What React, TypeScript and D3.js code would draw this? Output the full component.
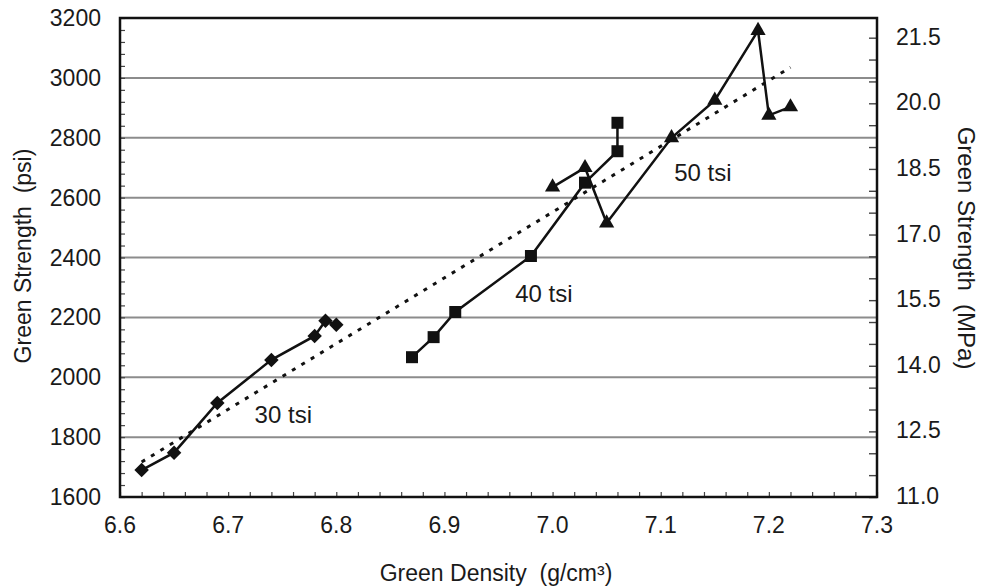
import { useRef, useEffect } from 'react';
import * as d3 from 'd3';

// 30 tsi (diamonds)
const density30 = [6.62, 6.65, 6.69, 6.74, 6.78, 6.79, 6.80];
const strength30 = [1690, 1748, 1914, 2058, 2138, 2189, 2175];
// 40 tsi (squares)
const density40 = [6.87, 6.89, 6.91, 6.98, 7.03, 7.06, 7.06];
const strength40 = [2067, 2134, 2218, 2405, 2650, 2755, 2850];
// 50 tsi (triangles)
const density50 = [7.0, 7.03, 7.05, 7.11, 7.15, 7.19, 7.2, 7.22];
const strength50 = [2635, 2700, 2515, 2800, 2925, 3158, 2875, 2903];
// dotted linear fit endpoints
const trendDensity = [6.62, 7.22];
const trendStrength = [1717, 3035];

const seriesLabels = ['30 tsi', '40 tsi', '50 tsi'];
const labelDensity = [6.751, 6.992, 7.139];
const labelStrength = [1847, 2251, 2655];

const xTicks = [6.6, 6.7, 6.8, 6.9, 7.0, 7.1, 7.2, 7.3];
const psiTicks = [1600, 1800, 2000, 2200, 2400, 2600, 2800, 3000, 3200];
const mpaTicks = [11.0, 12.5, 14.0, 15.5, 17.0, 18.5, 20.0, 21.5];

const App = () => {
    const ref = useRef(null);

    useEffect(() => {
        const svg = d3.select(ref.current);
        svg.selectAll('*').remove();

        const left = 120, right = 877, top = 18, bottom = 497;
        const font = 'Liberation Sans, Arial, sans-serif';
        const ink = '#1a1a1a';

        const x = d3.scaleLinear().domain([6.6, 7.3]).range([left, right]);
        const y = d3.scaleLinear().domain([1600, 3200]).range([bottom, top]);
        const yR = d3.scaleLinear().domain([11.0, 21.95]).range([bottom, top]);

        // grid lines
        svg.append('g')
            .selectAll('line')
            .data(psiTicks.slice(1, -1))
            .enter().append('line')
            .attr('x1', left).attr('x2', right)
            .attr('y1', d => y(d)).attr('y2', d => y(d))
            .attr('stroke', '#8c8c8c')
            .attr('stroke-width', 2);

        // left axis with inner minor ticks
        const gl = svg.append('g').attr('transform', `translate(${left},0)`);
        gl.call(d3.axisRight(y).tickValues(d3.range(1600, 3201, 40)).tickSize(5).tickFormat(() => ''));
        gl.select('.domain').remove();
        gl.selectAll('line').attr('stroke', '#444').attr('stroke-width', 1.2);
        svg.append('g')
            .selectAll('text')
            .data(psiTicks)
            .enter().append('text')
            .attr('x', 101).attr('y', d => y(d) + 8)
            .attr('text-anchor', 'end')
            .attr('font-family', font).attr('font-size', 23)
            .attr('fill', ink)
            .text(d => d);

        // right axis
        const gr = svg.append('g').attr('transform', `translate(${right},0)`);
        gr.call(d3.axisLeft(yR).tickValues(d3.range(11, 21.96, 0.5)).tickSize(8).tickFormat(() => ''));
        gr.select('.domain').remove();
        gr.selectAll('line').attr('stroke', '#444').attr('stroke-width', 1.4);
        svg.append('g')
            .selectAll('text')
            .data(mpaTicks)
            .enter().append('text')
            .attr('x', 896).attr('y', d => yR(d) + 7)
            .attr('text-anchor', 'start')
            .attr('font-family', font).attr('font-size', 23)
            .attr('fill', ink)
            .text(d => d.toFixed(1));

        // bottom axis with inner minor ticks
        const gb = svg.append('g').attr('transform', `translate(0,${bottom})`);
        gb.call(d3.axisTop(x).tickValues(d3.range(6.6, 7.301, 0.02)).tickSize(5).tickFormat(() => ''));
        gb.select('.domain').remove();
        gb.selectAll('line').attr('stroke', '#444').attr('stroke-width', 1.2);
        svg.append('g')
            .selectAll('text')
            .data(xTicks)
            .enter().append('text')
            .attr('x', d => x(d)).attr('y', 533)
            .attr('text-anchor', 'middle')
            .attr('font-family', font).attr('font-size', 23)
            .attr('fill', ink)
            .text(d => d.toFixed(1));

        // frame
        svg.append('rect')
            .attr('x', left).attr('y', top)
            .attr('width', right - left).attr('height', bottom - top)
            .attr('fill', 'none')
            .attr('stroke', '#111')
            .attr('stroke-width', 2.5);

        // trend line
        const line = d3.line().x(d => x(d[0])).y(d => y(d[1]));
        svg.append('path')
            .attr('d', line(d3.zip(trendDensity, trendStrength)))
            .attr('fill', 'none')
            .attr('stroke', '#111')
            .attr('stroke-width', 3)
            .attr('stroke-dasharray', '4,7');

        const series = [
            { pts: d3.zip(density30, strength30), sym: d3.symbolSquare, size: 105, rot: 45 },
            { pts: d3.zip(density40, strength40), sym: d3.symbolSquare, size: 144, rot: 0 },
            { pts: d3.zip(density50, strength50), sym: d3.symbolTriangle, size: 100, rot: 0 },
        ];

        series.forEach(s => {
            svg.append('path')
                .attr('d', line(s.pts))
                .attr('fill', 'none')
                .attr('stroke', '#111')
                .attr('stroke-width', 2.5);
            svg.append('g')
                .selectAll('path')
                .data(s.pts)
                .enter().append('path')
                .attr('transform', d => `translate(${x(d[0])},${y(d[1])}) rotate(${s.rot})`)
                .attr('d', d3.symbol().type(s.sym).size(s.size))
                .attr('fill', '#111');
        });

        svg.append('g')
            .selectAll('text')
            .data(seriesLabels)
            .enter().append('text')
            .attr('x', (d, i) => x(labelDensity[i]))
            .attr('y', (d, i) => y(labelStrength[i]))
            .attr('text-anchor', 'middle')
            .attr('font-family', font).attr('font-size', 24)
            .attr('fill', ink)
            .text(d => d);

        // axis titles
        const title = (t, transform, size) => svg.append('text')
            .attr('transform', transform)
            .attr('text-anchor', 'middle')
            .attr('font-family', font).attr('font-size', size)
            .attr('fill', ink)
            .style('white-space', 'pre')
            .text(t);
        title('Green Strength  (psi)', 'translate(31,256) rotate(-90)', 23);
        title('Green Strength  (MPa)', 'translate(958,248) rotate(90)', 24);
        title('Green Density  (g/cm³)', 'translate(496,581)', 23);
    }, []);

    return (
        <svg ref={ref} width={982} height={588}
            style={{ position: 'absolute', left: 0, top: 0, background: '#fff' }} />
    );
};

export default App;
